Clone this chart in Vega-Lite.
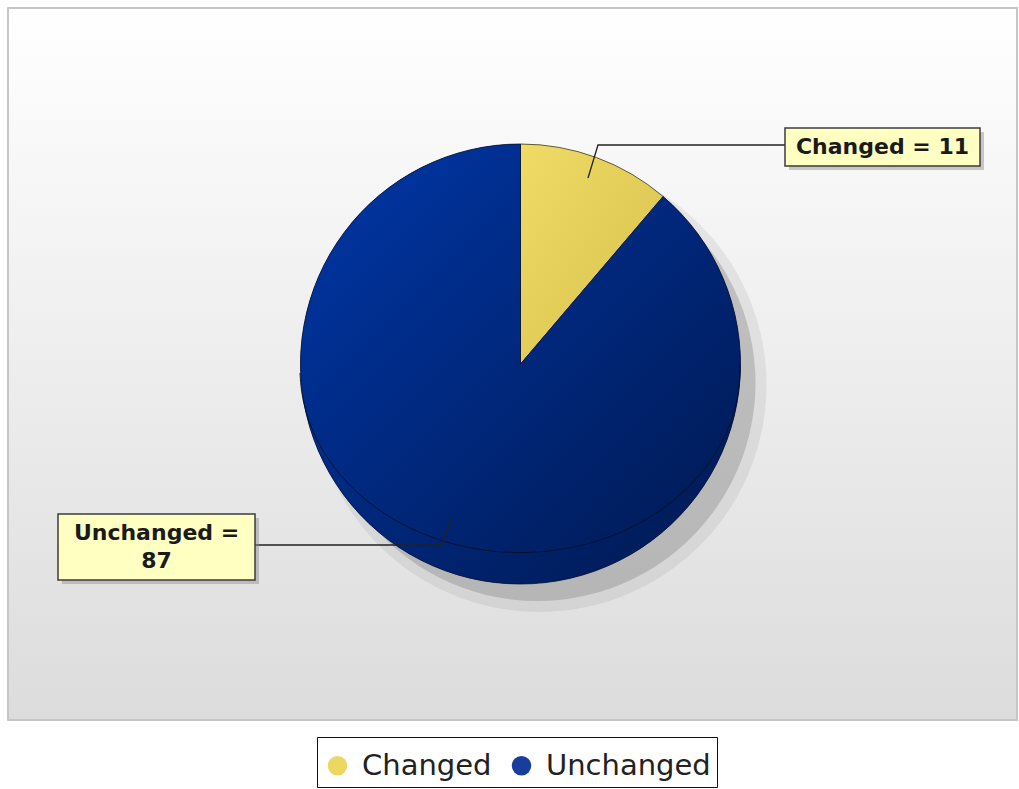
{
  "$schema": "https://vega.github.io/schema/vega-lite/v6.json",
  "width": 1009,
  "height": 712,
  "autosize": {"type": "none"},
  "padding": {"left": 8, "top": 8, "right": 2, "bottom": 69},
  "background": "white",
  "data": {
    "values": [
      {"category": "Changed", "value": 11},
      {"category": "Unchanged", "value": 87}
    ]
  },
  "transform": [
    {"calculate": "datum.category + ' = ' + datum.value", "as": "label"},
    {"calculate": "datum.category + ' =\\n' + datum.value", "as": "label2"}
  ],
  "layer": [
    {
      "transform": [{"filter": "datum.category === 'Unchanged'"}],
      "mark": {
        "type": "rect",
        "fill": {"gradient": "linear", "x1": 0, "y1": 0, "x2": 0, "y2": 1, "stops": [{"offset": 0, "color": "#ffffff"}, {"offset": 1, "color": "#dcdcdc"}]},
        "stroke": "#c6c6c6",
        "strokeWidth": 2
      },
      "encoding": {}
    },
    {
      "mark": {"type": "arc", "radius": 227, "fill": "#707070", "opacity": 0.12, "xOffset": 27, "yOffset": 21},
      "encoding": {"theta": {"field": "value", "type": "quantitative", "stack": true}}
    },
    {
      "mark": {"type": "arc", "radius": 218, "fill": "#707070", "opacity": 0.3, "xOffset": 25, "yOffset": 19},
      "encoding": {"theta": {"field": "value", "type": "quantitative", "stack": true}}
    },
    {
      "mark": {"type": "arc", "radius": 220, "xOffset": 8},
      "encoding": {
        "theta": {"field": "value", "type": "quantitative", "stack": true},
        "color": {
          "field": "category",
          "type": "nominal",
          "scale": {"domain": ["Changed", "Unchanged"], "range": ["#ecd861", "#173e9c"]},
          "legend": {
            "title": " ",
            "titleFontSize": 5,
            "titlePadding": 3,
            "orient": "none",
            "legendX": 309,
            "legendY": 729,
            "direction": "horizontal",
            "symbolType": "circle",
            "symbolSize": 380,
            "symbolStrokeWidth": 0,
            "labelFont": "DejaVu Sans",
            "labelFontSize": 29,
            "labelColor": "#222222",
            "labelOffset": 10,
            "labelLimit": 400,
            "columnPadding": 15,
            "padding": 6,
            "strokeColor": "#111111",
            "fillColor": "white"
          }
        }
      }
    },
    {
      "mark": {
        "type": "arc", "radius": 220, "xOffset": 8,
        "fill": {"gradient": "linear", "x1": 0, "y1": 0, "x2": 1, "y2": 1, "stops": [{"offset": 0, "color": "#efdb66"}, {"offset": 1, "color": "#d8c04d"}]},
        "stroke": "#3a3520", "strokeWidth": 0.8
      },
      "encoding": {
        "theta": {"field": "value", "type": "quantitative", "stack": true},
        "opacity": {"condition": {"test": "datum.category === 'Changed'", "value": 1}, "value": 0}
      }
    },
    {
      "mark": {
        "type": "arc", "radius": 220, "xOffset": 8,
        "fill": {"gradient": "linear", "x1": 0, "y1": 0, "x2": 1, "y2": 1, "stops": [{"offset": 0, "color": "#0037a8"}, {"offset": 1, "color": "#00184f"}]},
        "stroke": "#0a1230", "strokeWidth": 0.8
      },
      "encoding": {
        "theta": {"field": "value", "type": "quantitative", "stack": true},
        "opacity": {"condition": {"test": "datum.category === 'Unchanged'", "value": 1}, "value": 0}
      }
    },
    {
      "transform": [{"filter": "datum.category === 'Unchanged'"}],
      "mark": {"type": "point", "shape": "M-212.5,9A220,184 0 0 0 227.5,0", "size": 4, "filled": false, "stroke": "#08102e", "strokeWidth": 1, "opacity": 0.9},
      "encoding": {}
    },
    {
      "mark": {"type": "point", "size": 4, "filled": false, "stroke": "#222222", "strokeWidth": 1.3, "opacity": 1},
      "encoding": {
        "shape": {"condition": {"test": "datum.category === 'Changed'", "value": "M75.5,-186L85.5,-219L272.5,-219"}, "value": "M-60.5,153L-70.5,181L-257.5,181"}
      }
    },
    {
      "mark": {"type": "point", "size": 4, "filled": true, "fill": "#8a8a8a", "strokeWidth": 0, "opacity": 0.45},
      "encoding": {
        "shape": {"condition": {"test": "datum.category === 'Changed'", "value": "M276.5,-232H471.5V-194H276.5Z"}, "value": "M-450.5,154H-253.5V220H-450.5Z"}
      }
    },
    {
      "mark": {"type": "point", "size": 4, "filled": true, "fill": "#ffffc2", "stroke": "#3c3c3c", "strokeWidth": 1.5, "opacity": 1},
      "encoding": {
        "shape": {"condition": {"test": "datum.category === 'Changed'", "value": "M272.5,-236H467.5V-198H272.5Z"}, "value": "M-454.5,150H-257.5V216H-454.5Z"}
      }
    },
    {
      "mark": {"type": "text", "radius": 220, "dx": 294, "dy": -10.5, "font": "DejaVu Sans", "fontWeight": "bold", "fontSize": 22, "color": "#1a1a1a", "align": "center", "baseline": "middle"},
      "encoding": {
        "theta": {"field": "value", "type": "quantitative", "stack": true},
        "text": {"field": "label", "type": "nominal"},
        "opacity": {"condition": {"test": "datum.category === 'Changed'", "value": 1}, "value": 0}
      }
    },
    {
      "mark": {"type": "text", "radius": 220, "dx": -280, "dy": -37.5, "font": "DejaVu Sans", "fontWeight": "bold", "fontSize": 22, "lineBreak": "\n", "lineHeight": 28, "color": "#1a1a1a", "align": "center", "baseline": "middle"},
      "encoding": {
        "theta": {"field": "value", "type": "quantitative", "stack": true},
        "text": {"field": "label2", "type": "nominal"},
        "opacity": {"condition": {"test": "datum.category === 'Unchanged'", "value": 1}, "value": 0}
      }
    }
  ],
  "config": {
    "view": {"stroke": null}
  }
}
